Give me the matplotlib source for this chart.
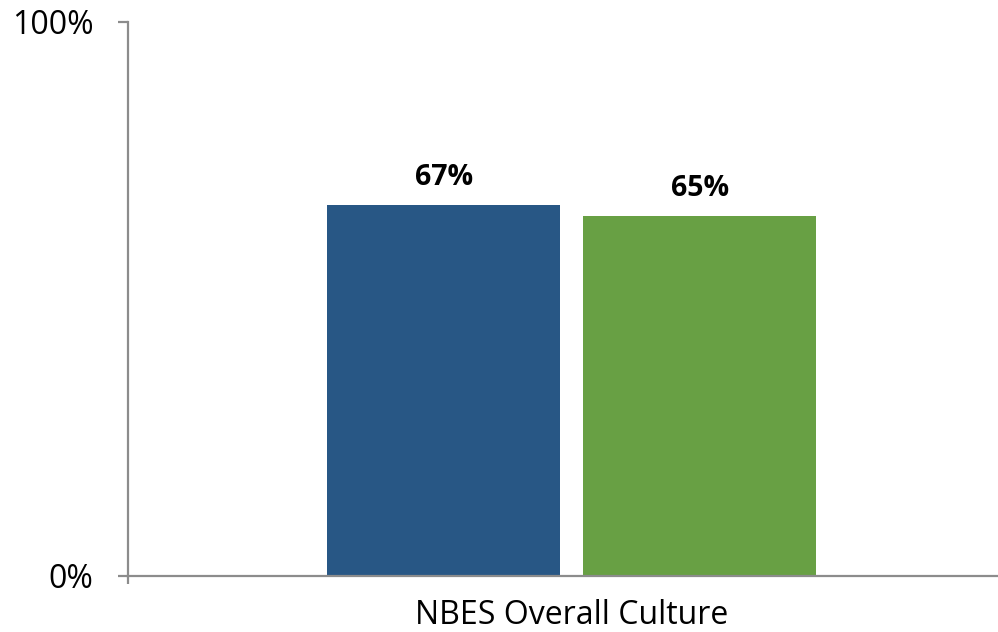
import matplotlib
matplotlib.use("Agg")
import matplotlib.pyplot as plt
from matplotlib.ticker import PercentFormatter

# data
category = "NBES Overall Culture"
series_values = [67, 65]
series_colors = ["#285785", "#68a044"]
value_labels = ["67%", "65%"]
y_ticks = [0, 100]

plt.rcParams["font.family"] = ["Open Sans", "DejaVu Sans"]

fig = plt.figure(figsize=(9.98, 6.32), dpi=100)
ax = fig.add_axes([128/998, 56/632, 870/998, 554/632])

width = 0.268
offsets = [-0.147, 0.147]
for off, v, c, lab in zip(offsets, series_values, series_colors, value_labels):
    ax.bar(off, v, width=width, color=c)
    ax.annotate(lab, (off, v), xytext=(0, 9), textcoords="offset points",
                ha="center", va="bottom", fontsize=20.5, fontweight="bold")

ax.set_xlim(-0.51, 0.49)
ax.set_ylim(0, 100)
ax.set_yticks(y_ticks)
ax.yaxis.set_major_formatter(PercentFormatter(decimals=0))
ax.set_xticks([-0.51])
ax.set_xticklabels([""])
ax.text(0, -0.072, category, transform=ax.get_xaxis_transform(),
        ha="center", va="center", fontsize=23)

for s in ["top", "right"]:
    ax.spines[s].set_visible(False)
for s in ["left", "bottom"]:
    ax.spines[s].set_color("#8c8c8c")
    ax.spines[s].set_linewidth(1.6)
ax.tick_params(axis="y", length=7, width=1.6, color="#8c8c8c", labelsize=23, pad=18)
ax.tick_params(axis="x", length=6, width=1.6, color="#8c8c8c")

fig.savefig("out.png", dpi=100)
